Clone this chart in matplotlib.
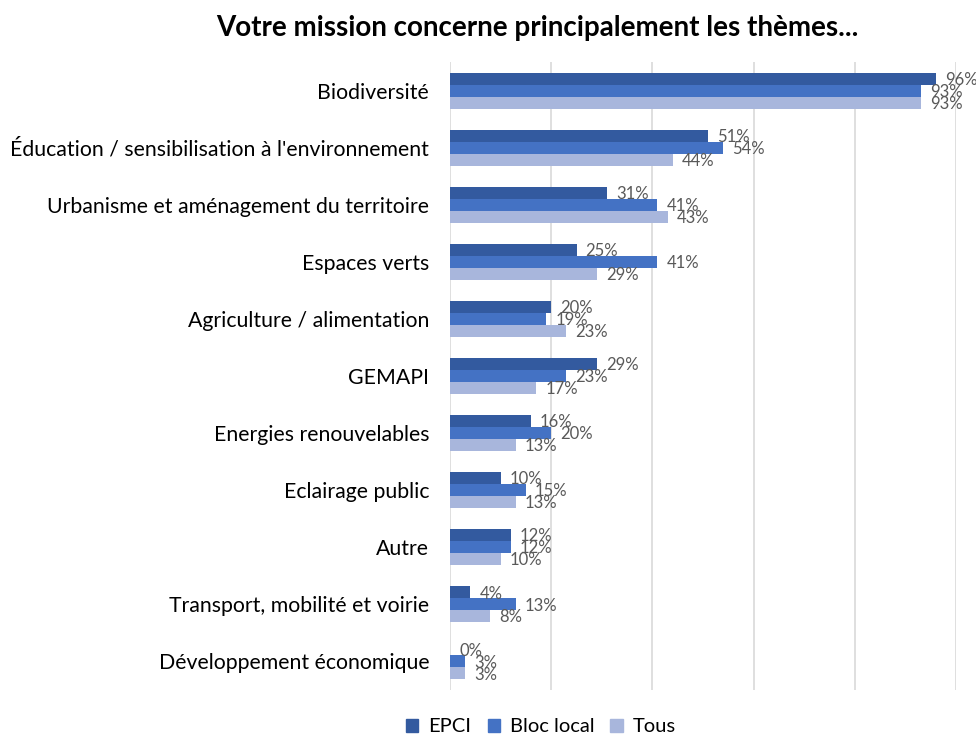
import matplotlib
matplotlib.use("Agg")
import matplotlib.pyplot as plt
import numpy as np
from matplotlib.patches import Patch

plt.rcParams['font.family'] = ['Lato', 'DejaVu Sans']

categories = ["Biodiversité", "Éducation / sensibilisation à l'environnement",
              "Urbanisme et aménagement du territoire", "Espaces verts",
              "Agriculture / alimentation", "GEMAPI", "Energies renouvelables",
              "Eclairage public", "Autre", "Transport, mobilité et voirie",
              "Développement économique"]
epci = [96, 51, 31, 25, 20, 29, 16, 10, 12, 4, 0]
bloc_local = [93, 54, 41, 41, 19, 23, 20, 15, 12, 13, 3]
tous = [93, 44, 43, 29, 23, 17, 13, 13, 10, 8, 3]
series_names = ["EPCI", "Bloc local", "Tous"]
colors = ["#335A9F", "#4472C4", "#A8B6DC"]

fig = plt.figure(figsize=(9.76, 7.36), dpi=100)
ax = fig.add_axes([450/976, 1-690/736, 506/976, 628/736])

n = len(categories)
y = np.arange(n)
h = 0.21
for i, (vals, name, c) in enumerate(zip([epci, bloc_local, tous], series_names, colors)):
    pos = y + (i - 1) * h
    ax.barh(pos, vals, height=h, color=c, label=name, zorder=3)
    for p, v in zip(pos, vals):
        ax.text(v + 1.8, p + 0.02, f"{v}%", va='center', ha='left', fontsize=12,
                color='#595959', zorder=4)

ax.set_ylim(n - 0.5, -0.5)
ax.set_xlim(0, 100)
ax.set_xticks([0, 20, 40, 60, 80, 100])
ax.set_xticklabels([])
ax.tick_params(axis='x', length=0)
ax.tick_params(axis='y', length=0, pad=15, labelsize=15.3, labelcolor='#000000')
ax.set_yticks(y)
ax.set_yticklabels(categories)
ax.grid(axis='x', color='#D9D9D9', linewidth=1.2, zorder=0)
for s in ax.spines.values():
    s.set_visible(False)

fig.text(537/976, 1-28/736, "Votre mission concerne principalement les thèmes...",
         ha='center', va='center', fontsize=20, fontweight='bold')

handles = [Patch(color=c, label=nm) for c, nm in zip(colors, series_names)]
fig.legend(handles=handles, loc='center', bbox_to_anchor=(541/976, 1-727/736),
           ncol=3, frameon=False, fontsize=14.5, handlelength=0.6, handleheight=0.6,
           columnspacing=0.8, handletextpad=0.5)

fig.savefig("out.png", dpi=100)
